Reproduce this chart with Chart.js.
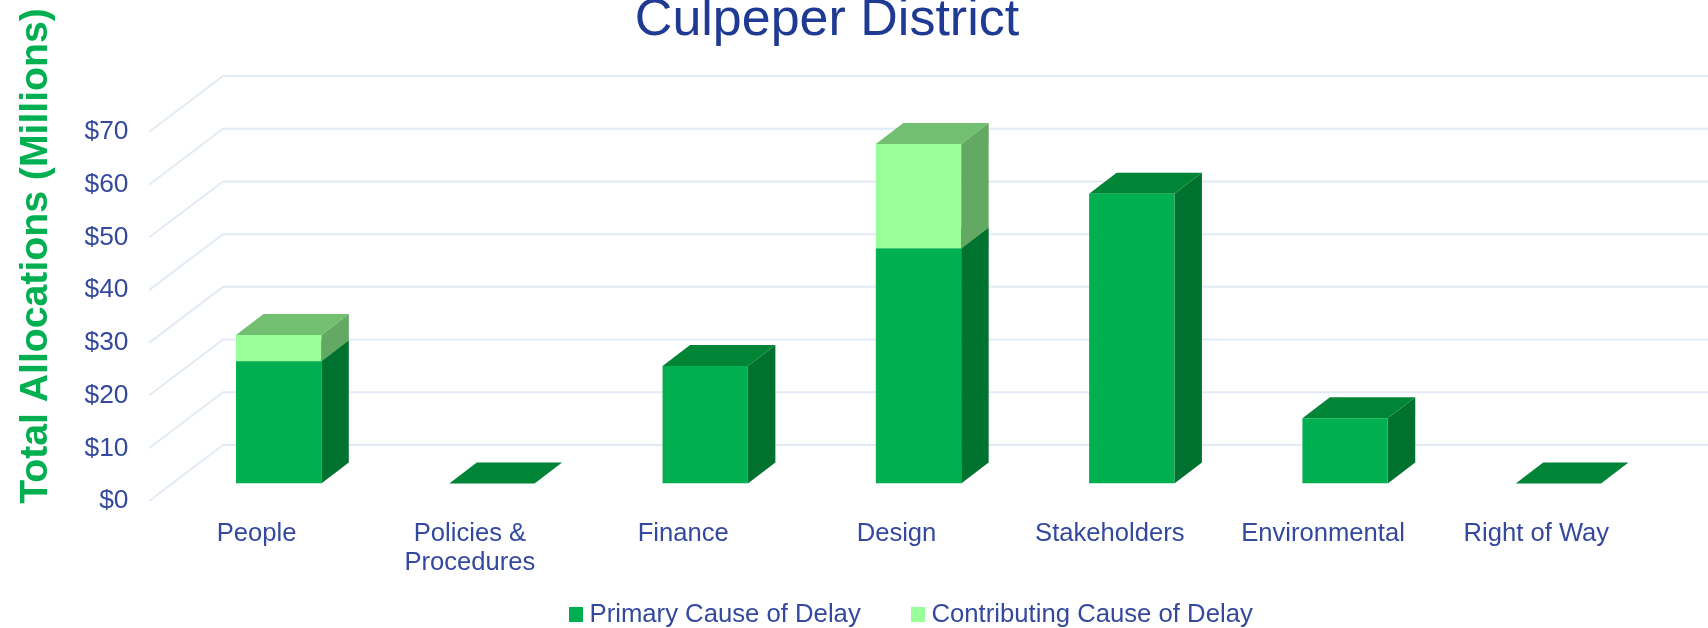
<!DOCTYPE html>
<html>
<head>
<meta charset="utf-8">
<title>Culpeper District</title>
<script src="https://cdn.jsdelivr.net/npm/chart.js"></script>
<style>
  body { margin: 0; background: #fff; }
  canvas { display: block; }
</style>
</head>
<body>
<canvas id="delayChart" width="1708" height="628"></canvas>
<script>
// chart data
const categories = ["People", ["Policies &", "Procedures"], "Finance", "Design", "Stakeholders", "Environmental", "Right of Way"];
const primaryValues = [23.2, 0, 22.3, 44.6, 55, 12.4, 0];
const contributingValues = [5, 0, 0, 19.8, 0, 0, 0];
const seriesNames = ["Primary Cause of Delay", "Contributing Cause of Delay"];
const yTicks = [0, 10, 20, 30, 40, 50, 60, 70];

const chartTitle = "Culpeper District";
const yTitle = "Total Allocations (Millions)";

const fontName = "'Liberation Sans', Arial, sans-serif";
const textBlue = "#34499e";

// 3d look: [front, side, top] colours per series
const primaryShades = ["#00b050", "#00722f", "#008537"];
const contributingShades = ["#99ff99", "#63a863", "#72bf72"];

const barDepthX = 27.5;
const barDepthY = 21;

function face(ctx, points, color) {
  ctx.fillStyle = color;
  ctx.beginPath();
  points.forEach(function (p, i) {
    if (i === 0) ctx.moveTo(p[0], p[1]);
    else ctx.lineTo(p[0], p[1]);
  });
  ctx.closePath();
  ctx.fill();
}

// back wall, left wall and the side/top faces of the bars
const depthPlugin = {
  id: "depth",
  beforeDatasetsDraw(chart) {
    const { ctx, chartArea, scales } = chart;
    ctx.save();
    ctx.strokeStyle = "#e2ebf5";
    ctx.lineWidth = 2;
    scales.y.ticks.forEach(function (t) {
      const y = scales.y.getPixelForValue(t.value);
      ctx.beginPath();
      ctx.moveTo(chartArea.left - 23, y + 17.4);
      ctx.lineTo(chartArea.left + 51, y - 38.6);
      ctx.lineTo(chart.width, y - 38.6);
      ctx.stroke();
    });

    chart.data.datasets.forEach(function (ds, d) {
      const shades = d === 0 ? primaryShades : contributingShades;
      chart.getDatasetMeta(d).data.forEach(function (bar, i) {
        if (d > 0 && ds.data[i] === 0) return;
        const x1 = bar.x - bar.width / 2;
        const x2 = bar.x + bar.width / 2;
        face(ctx, [[x2, bar.base], [x2 + barDepthX, bar.base - barDepthY], [x2 + barDepthX, bar.y - barDepthY], [x2, bar.y]], shades[1]);
        face(ctx, [[x1, bar.y], [x2, bar.y], [x2 + barDepthX, bar.y - barDepthY], [x1 + barDepthX, bar.y - barDepthY]], shades[2]);
      });
    });
    ctx.restore();
  },
  // title, axis title and legend sit off centre in the original, so they are placed by hand
  afterDraw(chart) {
    const { ctx } = chart;
    ctx.save();
    ctx.textBaseline = "alphabetic";
    ctx.textAlign = "center";
    ctx.fillStyle = "#1f3a93";
    ctx.font = "52px " + fontName;
    ctx.fillText(chartTitle, 827, 35);

    ctx.save();
    ctx.translate(47, 256);
    ctx.rotate(-Math.PI / 2);
    ctx.fillStyle = "#00b050";
    ctx.font = "bold 39.2px " + fontName;
    ctx.fillText(yTitle, 0, 0);
    ctx.restore();

    ctx.textAlign = "left";
    ctx.textBaseline = "middle";
    ctx.font = "25.7px " + fontName;
    const legendX = [569, 911];
    chart.data.datasets.forEach(function (ds, d) {
      ctx.fillStyle = ds.backgroundColor;
      ctx.fillRect(legendX[d], 607, 14, 15);
      ctx.fillStyle = textBlue;
      ctx.fillText(ds.label, legendX[d] + 20.5, 615);
    });
    ctx.restore();
  },
};

const ctx = document.getElementById("delayChart").getContext("2d");

const delayChart = new Chart(ctx, {
  type: "bar",
  data: {
    labels: categories,
    datasets: [
      {
        label: seriesNames[0],
        data: primaryValues,
        backgroundColor: primaryShades[0],
      },
      {
        label: seriesNames[1],
        data: contributingValues,
        backgroundColor: contributingShades[0],
      },
    ],
  },
  options: {
    responsive: false,
    animation: false,
    layout: {
      padding: { left: 0, right: 43, top: 114.6, bottom: 0 },
    },
    datasets: {
      bar: {
        categoryPercentage: 1,
        barPercentage: 0.4,
      },
    },
    scales: {
      x: {
        stacked: true,
        grid: { display: false, drawTicks: false },
        border: { display: false },
        ticks: {
          color: textBlue,
          font: { family: fontName, size: 25.6, lineHeight: 1.13 },
          autoSkip: false,
          maxRotation: 0,
          padding: 36,
          labelOffset: -22,
        },
        afterFit: function (scale) {
          scale.height = 144.4;
        },
      },
      y: {
        stacked: true,
        min: 0,
        max: 70,
        grid: { display: false, drawTicks: false },
        border: { display: false },
        afterBuildTicks: function (scale) {
          scale.ticks = yTicks.map(function (v) {
            return { value: v };
          });
        },
        ticks: {
          color: textBlue,
          font: { family: fontName, size: 26.4 },
          padding: 43.5,
          labelOffset: 17.4,
          callback: function (value) {
            return "$" + value;
          },
        },
        afterFit: function (scale) {
          scale.width = 172;
        },
      },
    },
    plugins: {
      legend: { display: false },
      tooltip: { enabled: false },
    },
  },
  plugins: [depthPlugin],
});
</script>
</body>
</html>
